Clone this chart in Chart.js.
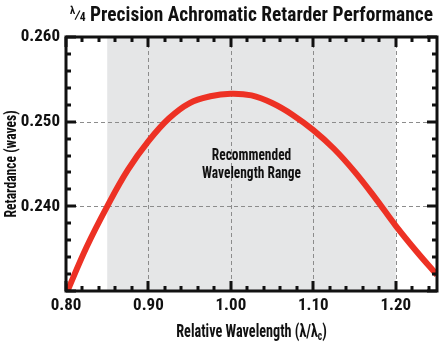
<!DOCTYPE html>
<html>
<head>
<meta charset="utf-8">
<script src="https://cdn.jsdelivr.net/npm/chart.js@4/dist/chart.umd.min.js"></script>
<style>
  html, body { margin: 0; padding: 0; background: #fff; }
  canvas { display: block; }
</style>
</head>
<body>
<canvas id="c" width="440" height="345"></canvas>
<script>
// Relative wavelength (λ/λc) and measured retardance in waves
const wavelength = [0.800, 0.825, 0.850, 0.875, 0.900, 0.925, 0.950, 0.975, 1.000, 1.025,
                    1.050, 1.075, 1.100, 1.125, 1.150, 1.175, 1.200, 1.225, 1.250];
const retardance = [0.2296, 0.2352, 0.2400, 0.2443, 0.2477, 0.2504, 0.2522, 0.2530, 0.2533, 0.2531,
                    0.2522, 0.2508, 0.2490, 0.2468, 0.2441, 0.2410, 0.2377, 0.2347, 0.2319];

// Axis ranges, tick marks and the recommended band
const xRange = [0.80, 1.25];
const yRange = [0.230, 0.260];
const xTickLabels = [0.80, 0.90, 1.00, 1.10, 1.20];
const yTickLabels = [0.240, 0.250, 0.260];
const xGridLines = [0.90, 1.00, 1.10, 1.20];
const yGridLines = [0.240, 0.250];
const xMinorStep = 0.02;
const yMinorStep = 0.002;
const recommendedBand = [0.85, 1.20];
const bandLabel = ['Recommended', 'Wavelength Range'];
const yTitle = 'Retardance (waves)';

const FONT = "'Roboto Condensed', 'DejaVu Sans Condensed', sans-serif";
const INK = '#111';

// text squeezed horizontally for a narrower face
function squeezed(ctx, text, x, y, sx) {
  ctx.save();
  ctx.translate(x, y);
  ctx.scale(sx, 1);
  ctx.fillText(text, 0, 0);
  ctx.restore();
}

const decorations = {
  id: 'decorations',
  beforeDatasetsDraw(chart) {
    const { ctx, chartArea: a, scales: { x, y } } = chart;
    ctx.save();
    // recommended wavelength band
    const b0 = x.getPixelForValue(recommendedBand[0]);
    const b1 = x.getPixelForValue(recommendedBand[1]);
    ctx.fillStyle = '#e5e6e7';
    ctx.fillRect(b0, a.top, b1 - b0, a.bottom - a.top);

    // dashed grid
    ctx.strokeStyle = '#8c8c8c';
    ctx.lineWidth = 1;
    ctx.setLineDash([4, 3]);
    xGridLines.forEach(v => {
      const px = Math.round(x.getPixelForValue(v)) + 0.5;
      ctx.beginPath(); ctx.moveTo(px, a.top); ctx.lineTo(px, a.bottom); ctx.stroke();
    });
    yGridLines.forEach(v => {
      const py = Math.round(y.getPixelForValue(v)) + 0.5;
      ctx.beginPath(); ctx.moveTo(a.left, py); ctx.lineTo(a.right, py); ctx.stroke();
    });
    ctx.setLineDash([]);

    // band caption
    ctx.fillStyle = INK;
    ctx.font = 'bold 16px ' + FONT;
    ctx.textAlign = 'center';
    ctx.textBaseline = 'alphabetic';
    const cx = x.getPixelForValue((recommendedBand[0] + recommendedBand[1]) / 2);
    squeezed(ctx, bandLabel[0], cx, 160, 0.84);
    squeezed(ctx, bandLabel[1], cx, 178, 0.84);
    ctx.restore();
  },
  afterDatasetsDraw(chart) {
    const { ctx, chartArea: a, scales: { x, y } } = chart;
    ctx.save();
    ctx.strokeStyle = INK;
    ctx.fillStyle = INK;

    // inward ticks on all four sides
    ctx.lineWidth = 3;
    const nx = Math.round((xRange[1] - xRange[0]) / xMinorStep);
    for (let i = 0; i <= nx; i++) {
      const v = xRange[0] + i * xMinorStep;
      const major = xTickLabels.some(t => Math.abs(t - v) < 1e-6);
      const len = major ? 10 : 5;
      const px = Math.round(x.getPixelForValue(v));
      ctx.beginPath(); ctx.moveTo(px, a.bottom); ctx.lineTo(px, a.bottom - len); ctx.stroke();
      ctx.beginPath(); ctx.moveTo(px, a.top); ctx.lineTo(px, a.top + len); ctx.stroke();
    }
    const ny = Math.round((yRange[1] - yRange[0]) / yMinorStep);
    for (let i = 0; i <= ny; i++) {
      const v = yRange[0] + i * yMinorStep;
      const major = yTickLabels.concat(yRange[0]).some(t => Math.abs(t - v) < 1e-6);
      const len = major ? 10 : 5;
      const py = Math.round(y.getPixelForValue(v));
      ctx.beginPath(); ctx.moveTo(a.left, py); ctx.lineTo(a.left + len, py); ctx.stroke();
      ctx.beginPath(); ctx.moveTo(a.right, py); ctx.lineTo(a.right - len, py); ctx.stroke();
    }

    // plot frame
    ctx.lineWidth = 3;
    ctx.strokeRect(a.left, a.top, a.right - a.left, a.bottom - a.top);

    const mid = (a.left + a.right) / 2;
    ctx.textBaseline = 'alphabetic';
    ctx.textAlign = 'left';

    // chart title with the λ/4 fraction
    const sxT = 0.97;
    const parts = [
      { t: 'λ', f: 'bold 11px ' + FONT, dy: -7, gap: -1 },
      { t: '⁄', f: 'bold 17px ' + FONT, dy: 0, gap: -1 },
      { t: '4', f: 'bold 12px ' + FONT, dy: 0, gap: 0 },
      { t: ' Precision Achromatic Retarder Performance', f: 'bold 20px ' + FONT, dy: 0, gap: 0 }
    ];
    let total = 0;
    parts.forEach(p => { ctx.font = p.f; p.w = (ctx.measureText(p.t).width + p.gap) * sxT; total += p.w; });
    let tx = mid - total / 2;
    parts.forEach(p => { ctx.font = p.f; squeezed(ctx, p.t, tx, 21 + p.dy, sxT); tx += p.w; });

    // x-axis title with subscript c
    const sxX = 0.79;
    const xParts = [
      { t: 'Relative Wavelength (λ/λ', f: 'bold 18px ' + FONT, dy: 0 },
      { t: 'c', f: 'bold 12px ' + FONT, dy: 3 },
      { t: ')', f: 'bold 18px ' + FONT, dy: 0 }
    ];
    total = 0;
    xParts.forEach(p => { ctx.font = p.f; p.w = ctx.measureText(p.t).width * sxX; total += p.w; });
    let ux = mid - total / 2;
    xParts.forEach(p => { ctx.font = p.f; squeezed(ctx, p.t, ux, 337 + p.dy, sxX); ux += p.w; });

    // y-axis title, rotated
    ctx.save();
    ctx.font = 'bold 17px ' + FONT;
    ctx.textAlign = 'center';
    ctx.textBaseline = 'middle';
    ctx.translate(12, (a.top + a.bottom) / 2);
    ctx.rotate(-Math.PI / 2);
    ctx.scale(0.8, 1);
    ctx.fillText(yTitle, 0, 0);
    ctx.restore();

    ctx.restore();
  }
};

new Chart(document.getElementById('c'), {
  type: 'line',
  data: {
    datasets: [{
      data: wavelength.map((w, i) => ({ x: w, y: retardance[i] })),
      borderColor: '#ed3124',
      borderWidth: 6,
      pointRadius: 0,
      tension: 0.4,
      clip: 0,
      fill: false
    }]
  },
  options: {
    responsive: false,
    animation: false,
    devicePixelRatio: 1,
    layout: { padding: { top: 37, right: 3, left: 0, bottom: 0 } },
    plugins: { legend: { display: false }, tooltip: { enabled: false }, title: { display: false } },
    scales: {
      x: {
        type: 'linear',
        min: xRange[0], max: xRange[1],
        afterBuildTicks: s => { s.ticks = xTickLabels.map(v => ({ value: v })); },
        afterFit: s => { s.height = 54; },
        grid: { display: false, drawTicks: false },
        border: { display: false },
        ticks: {
          padding: 5,
          color: INK,
          font: { family: FONT, size: 17, weight: 'bold' },
          maxRotation: 0,
          callback: v => v.toFixed(2)
        },
        title: { display: false }
      },
      y: {
        type: 'linear',
        min: yRange[0], max: yRange[1],
        afterBuildTicks: s => { s.ticks = yTickLabels.map(v => ({ value: v })); },
        afterFit: s => { s.width = 66; },
        grid: { display: false, drawTicks: false },
        border: { display: false },
        ticks: {
          padding: 6,
          color: INK,
          font: { family: FONT, size: 17, weight: 'bold' },
          callback: v => v.toFixed(3)
        },
        title: { display: false }
      }
    }
  },
  plugins: [decorations]
});
</script>
</body>
</html>
